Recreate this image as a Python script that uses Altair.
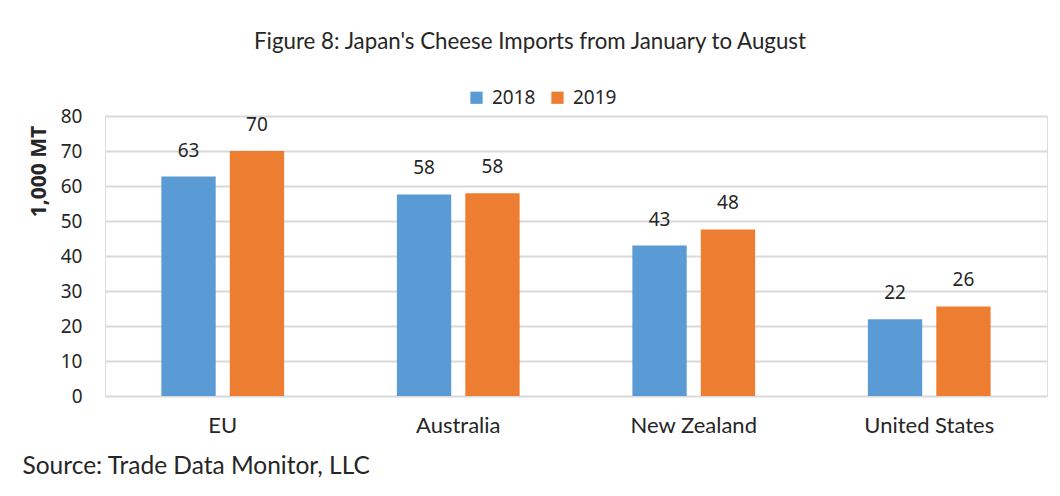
import altair as alt
import pandas as pd

regions = ["EU", "Australia", "New Zealand", "United States"]
years = ["2018", "2019"]
v2018 = [62.7, 57.6, 43.0, 21.9]
v2019 = [70.0, 57.9, 47.6, 25.6]

rows = []
for i, r in enumerate(regions):
    rows.append({"Region": r, "Year": "2018", "Value": v2018[i]})
    rows.append({"Region": r, "Year": "2019", "Value": v2019[i]})
df = pd.DataFrame(rows)

NARROW = "Lato"
SANS = "Noto Sans"

x = alt.X("Region:N", sort=regions, scale=alt.Scale(paddingInner=0, paddingOuter=0),
          axis=alt.Axis(title="Source: Trade Data Monitor, LLC", labelAngle=0, domain=False,
                        ticks=False, labelPadding=19, labelFont=NARROW, labelFontSize=22,
                        labelColor="#262626", titleFont=NARROW, titleFontSize=24.5,
                        titleFontWeight="normal", titleColor="#262626", titleAlign="left",
                        titleAnchor="start", titleX=-83, titleY=70, titleBaseline="middle"))
xo = alt.XOffset("Year:N", sort=years, scale=alt.Scale(paddingInner=0.206, paddingOuter=0.824))
y = alt.Y("Value:Q", scale=alt.Scale(domain=[0, 80]),
          axis=alt.Axis(values=list(range(0, 81, 10)), title="1,000 MT", domain=False, ticks=False,
                        labelPadding=23, labelFont=SANS, labelFontSize=19, labelColor="#262626",
                        gridColor="#d9d9d9", gridWidth=2, titleFont=SANS, titleFontSize=21,
                        titleFontWeight="bold", titleColor="#262626", titleX=-66, titleY=55,
                        titleAngle=-90, titleAlign="center", titleBaseline="middle"))
color = alt.Color("Year:N", sort=years,
                  scale=alt.Scale(domain=years, range=["#5B9BD5", "#ED7D31"]),
                  legend=alt.Legend(title=None, orient="none", direction="horizontal",
                                    legendX=362, legendY=-28, symbolType="square", symbolSize=150,
                                    symbolStrokeWidth=0, labelFont=SANS, labelFontSize=19,
                                    labelColor="#262626", labelOffset=6, columnPadding=12))

base = alt.Chart(df)
bars = base.mark_bar().encode(x=x, xOffset=xo, y=y, color=color)
labels = base.mark_text(baseline="bottom", dy=-16, font=SANS, fontSize=19, color="#262626").encode(
    x=x, xOffset=xo, y=y, text=alt.Text("Value:Q", format=".0f"))

chart = alt.layer(bars, labels).properties(
    width=942, height=280,
    title=alt.TitleParams("Figure 8: Japan's Cheese Imports from January to August",
                          font=NARROW, fontSize=22.3, fontWeight="normal", color="#262626",
                          anchor="middle", dx=-46, offset=35),
    autosize=alt.AutoSizeParams(type="none"),
    padding={"left": 97, "top": 108, "right": 5, "bottom": 92},
).configure_view(stroke=None).configure(background="white")

chart.save("out.html", embed_options={"renderer": "svg", "actions": False})
